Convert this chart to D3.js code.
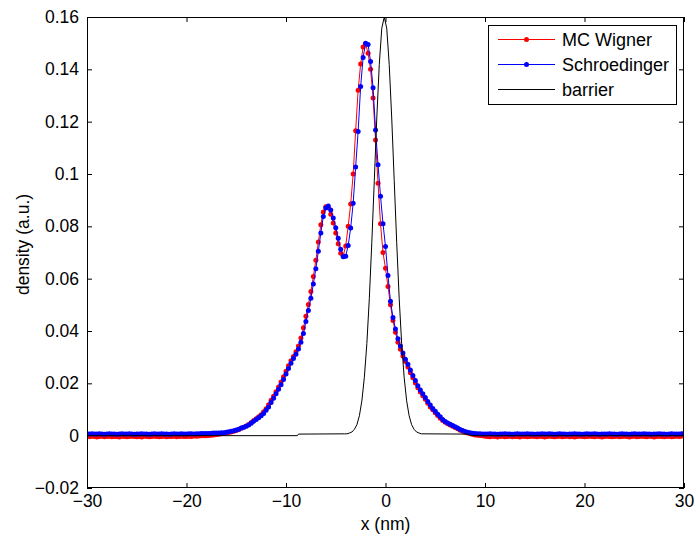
<!DOCTYPE html>
<html><head><meta charset="utf-8">
<script src="https://cdn.jsdelivr.net/npm/d3@7"></script>
<style>
body{margin:0;background:#fff}
svg{display:block}
text{font-family:"Liberation Sans",Arial,Helvetica,sans-serif;fill:#000}
</style>
</head><body>
<svg id="chart" width="695" height="541"></svg>
<script>
// ---------- data ----------
const xValues = [
-30,-29.75,-29.5,-29.25,-29,-28.75,-28.5,-28.25,
-28,-27.75,-27.5,-27.25,-27,-26.75,-26.5,-26.25,
-26,-25.75,-25.5,-25.25,-25,-24.75,-24.5,-24.25,
-24,-23.75,-23.5,-23.25,-23,-22.75,-22.5,-22.25,
-22,-21.75,-21.5,-21.25,-21,-20.75,-20.5,-20.25,
-20,-19.75,-19.5,-19.25,-19,-18.75,-18.5,-18.25,
-18,-17.75,-17.5,-17.25,-17,-16.75,-16.5,-16.25,
-16,-15.75,-15.5,-15.25,-15,-14.75,-14.5,-14.25,
-14,-13.75,-13.5,-13.25,-13,-12.75,-12.5,-12.25,
-12,-11.75,-11.5,-11.25,-11,-10.75,-10.5,-10.25,
-10,-9.75,-9.5,-9.25,-9,-8.75,-8.5,-8.25,
-8,-7.75,-7.5,-7.25,-7,-6.75,-6.5,-6.25,
-6,-5.75,-5.5,-5.25,-5,-4.75,-4.5,-4.25,
-4,-3.75,-3.5,-3.25,-3,-2.75,-2.5,-2.25,
-2,-1.75,-1.5,-1.25,-1,-0.75,-0.5,-0.25,
0,0.25,0.5,0.75,1,1.25,1.5,1.75,
2,2.25,2.5,2.75,3,3.25,3.5,3.75,
4,4.25,4.5,4.75,5,5.25,5.5,5.75,
6,6.25,6.5,6.75,7,7.25,7.5,7.75,
8,8.25,8.5,8.75,9,9.25,9.5,9.75,
10,10.25,10.5,10.75,11,11.25,11.5,11.75,
12,12.25,12.5,12.75,13,13.25,13.5,13.75,
14,14.25,14.5,14.75,15,15.25,15.5,15.75,
16,16.25,16.5,16.75,17,17.25,17.5,17.75,
18,18.25,18.5,18.75,19,19.25,19.5,19.75,
20,20.25,20.5,20.75,21,21.25,21.5,21.75,
22,22.25,22.5,22.75,23,23.25,23.5,23.75,
24,24.25,24.5,24.75,25,25.25,25.5,25.75,
26,26.25,26.5,26.75,27,27.25,27.5,27.75,
28,28.25,28.5,28.75,29,29.25,29.5,29.75,
30];

const mcWigner = [
-0.0003,-0.0004,-0.0002,-0.0003,-0.0005,-0.0003,-0.0002,-0.0004,
-0.0003,-0.0002,-0.0004,-0.0003,-0.0003,-0.0005,-0.0002,-0.0003,
-0.0004,-0.0003,-0.0002,-0.0003,-0.0004,-0.0003,-0.0005,-0.0002,
-0.0003,-0.0004,-0.0003,-0.0002,-0.0003,-0.0004,-0.0003,-0.0002,
-0.0004,-0.0003,-0.0003,-0.0002,-0.0004,-0.0003,-0.0002,-0.0003,
-0.0003,-0.0002,-0.0003,-0.0001,-0.0002,-0.0001,0.0000,0.0000,
0.0000,0.0001,0.0002,0.0003,0.0004,0.0005,0.0007,0.0008,
0.0010,0.0012,0.0014,0.0017,0.0020,0.0024,0.0028,0.0032,
0.0037,0.0043,0.0050,0.0058,0.0065,0.0072,0.0080,0.0091,
0.0103,0.0118,0.0135,0.0151,0.0168,0.0186,0.0205,0.0225,
0.0246,0.0267,0.0286,0.0303,0.0321,0.0343,0.0373,0.0412,
0.0456,0.0501,0.0551,0.0608,0.0670,0.0740,0.0806,0.0855,
0.0875,0.0871,0.0846,0.0813,0.0775,0.0733,0.0697,0.0688,
0.0725,0.0800,0.0885,0.1000,0.1165,0.1320,0.1420,0.1485,
0.1498,0.1461,0.1400,0.1290,0.1130,0.0965,0.0810,0.0700,
0.0640,0.0570,0.0500,0.0440,0.0395,0.0357,0.0330,0.0304,
0.0283,0.0262,0.0240,0.0221,0.0201,0.0183,0.0167,0.0153,
0.0139,0.0124,0.0110,0.0099,0.0088,0.0077,0.0067,0.0058,
0.0051,0.0046,0.0041,0.0036,0.0031,0.0026,0.0021,0.0017,
0.0013,0.0010,0.0007,0.0005,0.0003,0.0002,0.0001,0.0000,
-0.0002,-0.0003,-0.0004,-0.0002,-0.0003,-0.0005,-0.0003,-0.0002,
-0.0004,-0.0003,-0.0002,-0.0004,-0.0003,-0.0003,-0.0005,-0.0002,
-0.0003,-0.0004,-0.0003,-0.0002,-0.0003,-0.0004,-0.0002,-0.0003,
-0.0005,-0.0003,-0.0002,-0.0003,-0.0004,-0.0003,-0.0002,-0.0004,
-0.0003,-0.0002,-0.0004,-0.0003,-0.0005,-0.0003,-0.0002,-0.0003,
-0.0004,-0.0003,-0.0002,-0.0003,-0.0004,-0.0002,-0.0003,-0.0005,
-0.0003,-0.0002,-0.0003,-0.0004,-0.0003,-0.0002,-0.0004,-0.0003,
-0.0002,-0.0003,-0.0005,-0.0003,-0.0002,-0.0004,-0.0003,-0.0002,
-0.0003,-0.0004,-0.0002,-0.0003,-0.0005,-0.0003,-0.0002,-0.0003,
-0.0004,-0.0003,-0.0002,-0.0004,-0.0003,-0.0002,-0.0003,-0.0002,
0.0000];

const schroedinger = [
0.0007,0.0006,0.0007,0.0006,0.0006,0.0007,0.0006,0.0005,
0.0006,0.0007,0.0006,0.0006,0.0005,0.0006,0.0007,0.0006,
0.0006,0.0007,0.0006,0.0005,0.0006,0.0006,0.0007,0.0006,
0.0006,0.0005,0.0006,0.0007,0.0006,0.0006,0.0007,0.0006,
0.0006,0.0005,0.0006,0.0007,0.0006,0.0006,0.0007,0.0006,
0.0006,0.0007,0.0007,0.0006,0.0007,0.0007,0.0008,0.0008,
0.0008,0.0008,0.0009,0.0010,0.0010,0.0010,0.0011,0.0011,
0.0013,0.0015,0.0017,0.0019,0.0022,0.0025,0.0029,0.0032,
0.0036,0.0041,0.0047,0.0055,0.0062,0.0068,0.0076,0.0085,
0.0097,0.0110,0.0127,0.0143,0.0160,0.0177,0.0195,0.0215,
0.0236,0.0257,0.0277,0.0295,0.0311,0.0331,0.0357,0.0390,
0.0436,0.0478,0.0525,0.0580,0.0638,0.0705,0.0775,0.0838,
0.0870,0.0878,0.0862,0.0832,0.0795,0.0754,0.0712,0.0684,
0.0686,0.0727,0.0794,0.0888,0.1027,0.1162,0.1334,0.1445,
0.1500,0.1495,0.1430,0.1330,0.1168,0.1035,0.0915,0.0810,
0.0723,0.0612,0.0514,0.0452,0.0408,0.0370,0.0343,0.0316,
0.0292,0.0273,0.0251,0.0230,0.0211,0.0191,0.0175,0.0160,
0.0146,0.0131,0.0117,0.0104,0.0093,0.0082,0.0072,0.0062,
0.0054,0.0048,0.0044,0.0039,0.0034,0.0029,0.0024,0.0020,
0.0016,0.0013,0.0011,0.0009,0.0008,0.0007,0.0007,0.0006,
0.0006,0.0006,0.0007,0.0006,0.0006,0.0005,0.0006,0.0006,
0.0007,0.0006,0.0006,0.0005,0.0006,0.0007,0.0006,0.0006,
0.0006,0.0007,0.0006,0.0006,0.0005,0.0006,0.0006,0.0007,
0.0006,0.0006,0.0007,0.0006,0.0005,0.0006,0.0007,0.0006,
0.0006,0.0005,0.0006,0.0006,0.0007,0.0006,0.0006,0.0005,
0.0006,0.0007,0.0006,0.0006,0.0007,0.0006,0.0005,0.0006,
0.0006,0.0006,0.0007,0.0006,0.0006,0.0005,0.0006,0.0007,
0.0006,0.0006,0.0005,0.0006,0.0007,0.0006,0.0006,0.0006,
0.0007,0.0006,0.0006,0.0005,0.0006,0.0006,0.0007,0.0006,
0.0006,0.0005,0.0006,0.0007,0.0006,0.0006,0.0006,0.0007,
0.0008];

const barrierX = [-30,-8.85,-8.75,
-4.125,-3.875,-3.625,-3.375,-3.125,-2.875,-2.625,-2.375,
-2.125,-1.875,-1.625,-1.375,-1.125,-0.875,-0.625,-0.375,
-0.125,
0.125,0.375,0.625,0.875,1.125,1.375,1.625,1.875,
2.125,2.375,2.625,2.875,3.125,3.375,3.625,3.875,
8.45,8.55,30];
const barrierValues = [0,0,0.0006,
0.0007,0.0007,0.0010,0.0014,0.0024,0.0042,0.0076,0.0133,
0.0223,0.0352,0.0525,0.0739,0.0976,0.1214,0.1418,0.1557,
0.1600,
0.1557,0.1418,0.1214,0.0976,0.0739,0.0525,0.0352,0.0223,
0.0133,0.0076,0.0042,0.0024,0.0014,0.0010,0.0007,0.0007,
0.0006,0,0];

const xTicks = [-30,-20,-10,0,10,20,30];
const xTickLabels = ["\u221230","\u221220","\u221210","0","10","20","30"];
const yTicks = [-0.02,0,0.02,0.04,0.06,0.08,0.1,0.12,0.14,0.16];
const yTickLabels = ["\u22120.02","0","0.02","0.04","0.06","0.08","0.1","0.12","0.14","0.16"];
const seriesNames = ["MC Wigner","Schroedinger","barrier"];
const seriesColors = ["#ff0000","#0000ff","#000000"];

// ---------- layout ----------
const L = 87, R = 684, T = 17, B = 488;
const svg = d3.select("#chart");
svg.append("rect").attr("width",695).attr("height",541).attr("fill","#fff");

const x = d3.scaleLinear().domain([-30,30]).range([L,R]);
const y = d3.scaleLinear().domain([-0.02,0.16]).range([B,T]);

svg.append("defs").append("clipPath").attr("id","clip")
  .append("rect").attr("x",L).attr("y",T).attr("width",R-L).attr("height",B-T);

// axes
const fs = 17.5;
const gB = svg.append("g").attr("transform",`translate(0,${B})`)
  .call(d3.axisBottom(x).tickValues(xTicks).tickFormat((d,i)=>xTickLabels[i]).tickSizeInner(-5).tickSizeOuter(0).tickPadding(7));
const gT = svg.append("g").attr("transform",`translate(0,${T})`)
  .call(d3.axisTop(x).tickValues(xTicks).tickFormat("").tickSizeInner(-5).tickSizeOuter(0));
const gL = svg.append("g").attr("transform",`translate(${L},0)`)
  .call(d3.axisLeft(y).tickValues(yTicks).tickFormat((d,i)=>yTickLabels[i]).tickSizeInner(-5).tickSizeOuter(0).tickPadding(8));
const gR = svg.append("g").attr("transform",`translate(${R},0)`)
  .call(d3.axisRight(y).tickValues(yTicks).tickFormat("").tickSizeInner(-5).tickSizeOuter(0));
[gB,gT,gL,gR].forEach(g=>{
  g.select(".domain").remove();
  g.selectAll(".tick line").attr("stroke","#000").attr("stroke-width",1);
  g.selectAll(".tick text").attr("font-size",fs).attr("font-family","Liberation Sans, Arial, sans-serif").attr("fill","#000");
});

// data layers
const plot = svg.append("g").attr("clip-path","url(#clip)");
const line = d3.line().x(d=>x(d[0])).y(d=>y(d[1]));
const mcData = xValues.map((v,i)=>[v,mcWigner[i]]);
const scData = xValues.map((v,i)=>[v,schroedinger[i]]);
const brData = barrierX.map((v,i)=>[v,barrierValues[i]]);

function drawSeries(data,color){
  plot.append("path").datum(data).attr("d",line).attr("fill","none").attr("stroke",color).attr("stroke-width",1);
  plot.append("g").selectAll("circle").data(data).join("circle")
    .attr("cx",d=>x(d[0])).attr("cy",d=>y(d[1])).attr("r",2.5).attr("fill",color);
}
drawSeries(mcData,seriesColors[0]);
drawSeries(scData,seriesColors[1]);
plot.append("path").datum(brData).attr("d",line).attr("fill","none").attr("stroke",seriesColors[2]).attr("stroke-width",1);

// box
svg.append("rect").attr("x",L+0.5).attr("y",T+0.5).attr("width",R-L-1).attr("height",B-T-1)
  .attr("fill","none").attr("stroke","#000").attr("stroke-width",1);

// axis labels
svg.append("text").attr("x",(L+R)/2).attr("y",530).attr("text-anchor","middle").attr("font-size",fs).text("x (nm)");
svg.append("text").attr("transform",`translate(29,${(T+B)/2 - 8}) rotate(-90)`).attr("text-anchor","middle").attr("font-size",fs).text("density (a.u.)");

// legend
const lg = svg.append("g");
lg.append("rect").attr("x",488.5).attr("y",25.5).attr("width",188).attr("height",79)
  .attr("fill","#fff").attr("stroke","#000").attr("stroke-width",1);
const rowsY = [39.5,64.5,89.5];
seriesNames.forEach((n,i)=>{
  const yy = rowsY[i];
  lg.append("line").attr("x1",498).attr("x2",555).attr("y1",yy).attr("y2",yy).attr("stroke",seriesColors[i]).attr("stroke-width",1);
  if(i<2) lg.append("circle").attr("cx",526.5).attr("cy",yy).attr("r",2.5).attr("fill",seriesColors[i]);
  lg.append("text").attr("x",562).attr("y",yy).attr("dy","0.35em").attr("font-size",18).text(n);
});
</script>
</body></html>
